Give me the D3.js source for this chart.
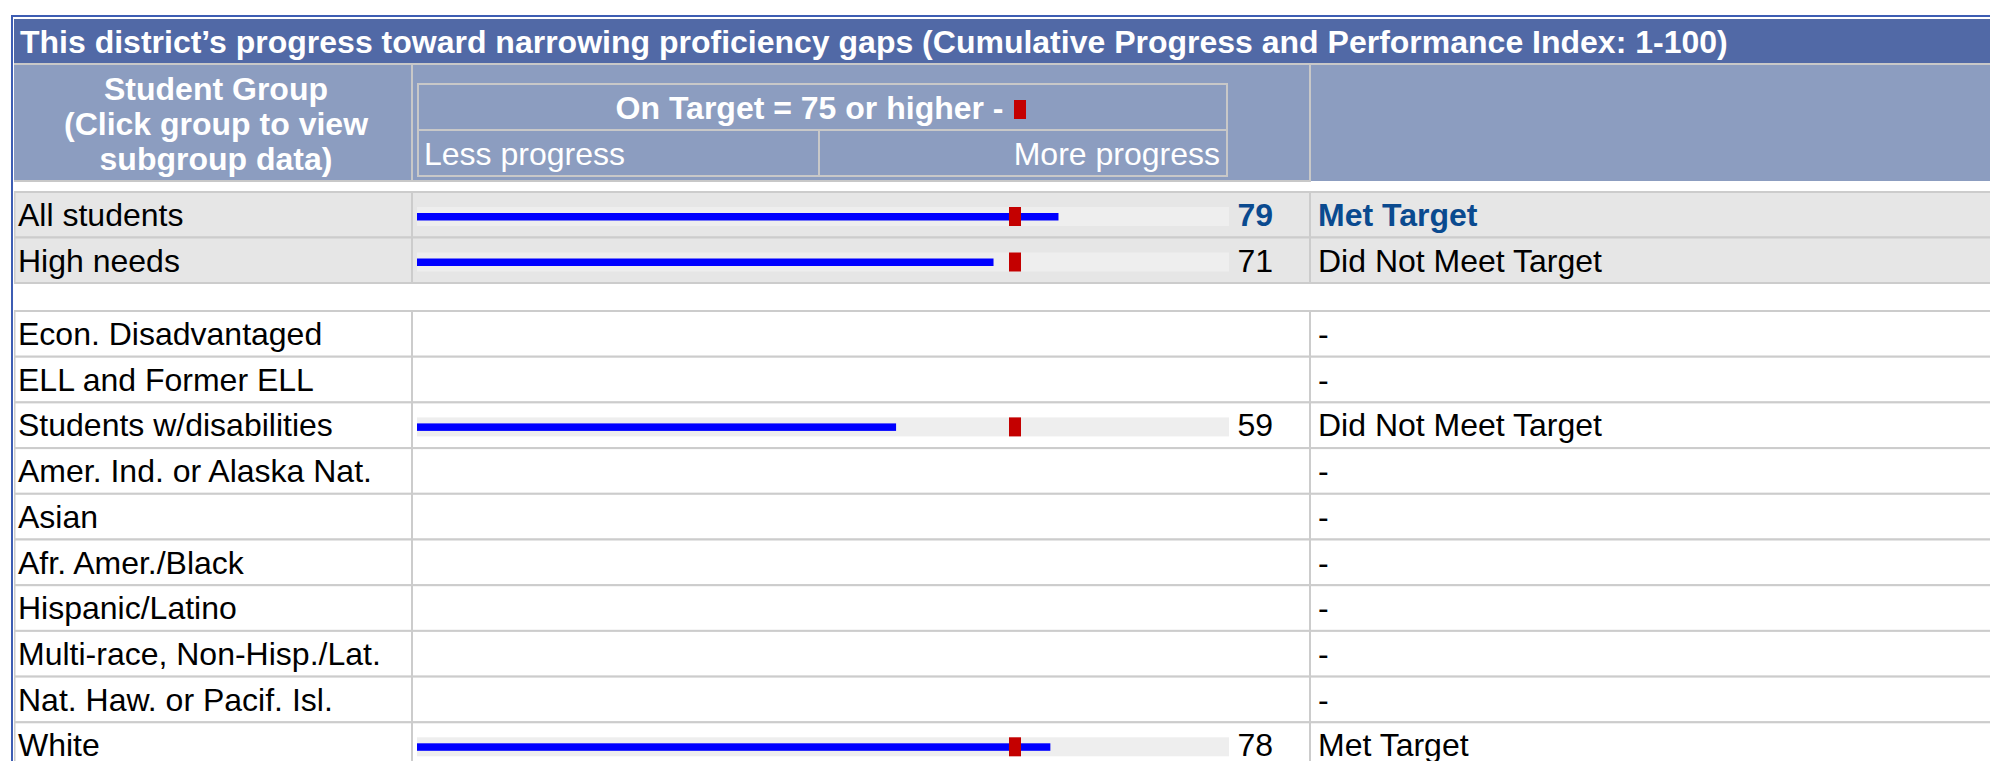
<!DOCTYPE html>
<html lang="en">
<head>
  <meta charset="UTF-8" />
  <title>Proficiency gaps progress</title>
  <script src="https://cdn.jsdelivr.net/npm/d3@7/dist/d3.min.js"></script>
  <style>
    body { margin: 0; background: #fff; }
    svg { display: block; font-family: 'Liberation Sans', Arial, sans-serif; }
  </style>
</head>
<body>
  <svg width="1990" height="761"></svg>

  <script>
    // data
    const title = 'This district\u2019s progress toward narrowing proficiency gaps (Cumulative Progress and Performance Index: 1-100)';
    const headerLines = ['Student Group', '(Click group to view', 'subgroup data)'];
    const targetLabel = 'On Target = 75 or higher - ';
    const scaleLabels = ['Less progress', 'More progress'];
    const target = 75;

    const topGroups = ['All students', 'High needs'];
    const subGroups = [
      'Econ. Disadvantaged',
      'ELL and Former ELL',
      'Students w/disabilities',
      'Amer. Ind. or Alaska Nat.',
      'Asian',
      'Afr. Amer./Black',
      'Hispanic/Latino',
      'Multi-race, Non-Hisp./Lat.',
      'Nat. Haw. or Pacif. Isl.',
      'White',
    ];
    const topScores = [79, 71];
    const subScores = [null, null, 59, null, null, null, null, null, null, 78];
    const topStatus = ['Met Target', 'Did Not Meet Target'];
    const subStatus = ['-', '-', 'Did Not Meet Target', '-', '-', '-', '-', '-', '-', 'Met Target'];
    const highlighted = ['All students'];

    const svg = d3.select('svg');
    const W = +svg.attr('width');

    const col1 = 412, col2 = 1310; // column dividers
    const lineCol = '#cccccc';

    const x = d3.scaleLinear().domain([0, 100]).range([417, 1229]);
    const yTop = d3.scaleBand().domain(topGroups).range([192, 283]);
    const ySub = d3.scaleBand().domain(subGroups).range([311, 311 + 45.7 * subGroups.length]);

    // outer border
    svg.append('rect').attr('x', 12).attr('y', 16).attr('width', W).attr('height', 800)
      .attr('fill', 'none').attr('stroke', '#3d5db3').attr('stroke-width', 2);

    // title band
    svg.append('rect').attr('x', 14).attr('y', 19).attr('width', W).attr('height', 44).attr('fill', '#5169a6');
    svg.append('text').attr('x', 20).attr('y', 53).text(title)
      .attr('fill', '#fff').style('font-weight', 'bold').style('font-size', '32px');

    // header band
    svg.append('rect').attr('x', 14).attr('y', 63).attr('width', W).attr('height', 2).attr('fill', '#c8c8c8');
    svg.append('rect').attr('x', 14).attr('y', 65).attr('width', W).attr('height', 116).attr('fill', '#8c9dc0');
    svg.append('rect').attr('x', 14).attr('y', 180).attr('width', col2 - 14).attr('height', 2).attr('fill', '#c8c8c8');
    [col1, col2].forEach((cx) => {
      svg.append('rect').attr('x', cx - 1).attr('y', 65).attr('width', 2).attr('height', 117).attr('fill', '#c8c8c8');
    });

    svg.append('g').selectAll('text').data(headerLines).enter().append('text')
      .attr('x', 216).attr('y', (d, i) => 100 + i * 35)
      .attr('text-anchor', 'middle').text((d) => d)
      .attr('fill', '#fff').style('font-weight', 'bold').style('font-size', '32px');

    // legend box
    const box = svg.append('g').attr('fill', 'none').attr('stroke', '#c8c8c8').attr('stroke-width', 2);
    box.append('rect').attr('x', 418).attr('y', 84).attr('width', 809).attr('height', 92);
    box.append('line').attr('x1', 418).attr('x2', 1227).attr('y1', 130).attr('y2', 130);
    box.append('line').attr('x1', 819).attr('x2', 819).attr('y1', 130).attr('y2', 176);

    const legendText = svg.append('text').attr('x', 822).attr('y', 119).attr('text-anchor', 'middle')
      .attr('fill', '#fff').style('font-weight', 'bold').style('font-size', '32px');
    legendText.append('tspan').text(targetLabel);
    legendText.append('tspan').text('\u2002').attr('fill', 'none');
    svg.append('rect').attr('x', 1014).attr('y', 100).attr('width', 12).attr('height', 19).attr('fill', '#c40000');

    svg.append('text').attr('x', 424).attr('y', 165).text(scaleLabels[0])
      .attr('fill', '#fff').style('font-size', '32px');
    svg.append('text').attr('x', 1220).attr('y', 165).attr('text-anchor', 'end').text(scaleLabels[1])
      .attr('fill', '#fff').style('font-size', '32px');

    function drawSection(groups, scores, status, y, bg) {
      const rows = groups.map((g, i) => ({ g, v: scores[i], s: status[i] }));
      const gRow = svg.append('g').selectAll('g').data(rows).enter().append('g')
        .attr('transform', (d) => `translate(0,${y(d.g)})`);
      const h = y.bandwidth();

      gRow.append('rect').attr('x', 14).attr('y', 0).attr('width', W).attr('height', h).attr('fill', bg);
      gRow.append('rect').attr('x', 14).attr('y', -1).attr('width', W).attr('height', 2).attr('fill', lineCol);
      gRow.append('rect').attr('x', 14).attr('y', h - 1).attr('width', W).attr('height', 2).attr('fill', lineCol);
      gRow.append('rect').attr('x', 14).attr('y', 0).attr('width', 1.5).attr('height', h).attr('fill', lineCol);
      [col1, col2].forEach((cx) => {
        gRow.append('rect').attr('x', cx - 1).attr('y', 0).attr('width', 2).attr('height', h).attr('fill', lineCol);
      });

      const isHi = (d) => highlighted.includes(d.g);

      gRow.append('text').attr('x', 18).attr('y', 34).text((d) => d.g)
        .attr('fill', '#000').style('font-size', '32px');

      const withBar = gRow.filter((d) => d.v != null);
      withBar.append('rect').attr('x', x(0)).attr('y', 15).attr('width', x(100) - x(0)).attr('height', 19)
        .attr('fill', '#eeeeee');
      withBar.append('rect').attr('x', x(0)).attr('y', 21).attr('width', (d) => x(d.v) - x(0)).attr('height', 7.5)
        .attr('fill', '#0000ff');
      withBar.append('rect').attr('x', x(target) - 17).attr('y', 15).attr('width', 12).attr('height', 19)
        .attr('fill', '#c40000');
      withBar.append('text').attr('x', 1273).attr('y', 34).attr('text-anchor', 'end').text((d) => d.v)
        .attr('fill', (d) => (isHi(d) ? '#0a4a8f' : '#000'))
        .style('font-weight', (d) => (isHi(d) ? 'bold' : 'normal'))
        .style('font-size', '32px');

      gRow.append('text').attr('x', 1318).attr('y', 34).text((d) => d.s)
        .attr('fill', (d) => (isHi(d) ? '#0a4a8f' : '#000'))
        .style('font-weight', (d) => (isHi(d) ? 'bold' : 'normal'))
        .style('font-size', '32px');
    }

    drawSection(topGroups, topScores, topStatus, yTop, '#e6e6e6');
    drawSection(subGroups, subScores, subStatus, ySub, '#ffffff');

    // left blue edge on top of everything
    svg.append('rect').attr('x', 11).attr('y', 15).attr('width', 2).attr('height', 760).attr('fill', '#3d5db3');
  </script>
</body>
</html>
